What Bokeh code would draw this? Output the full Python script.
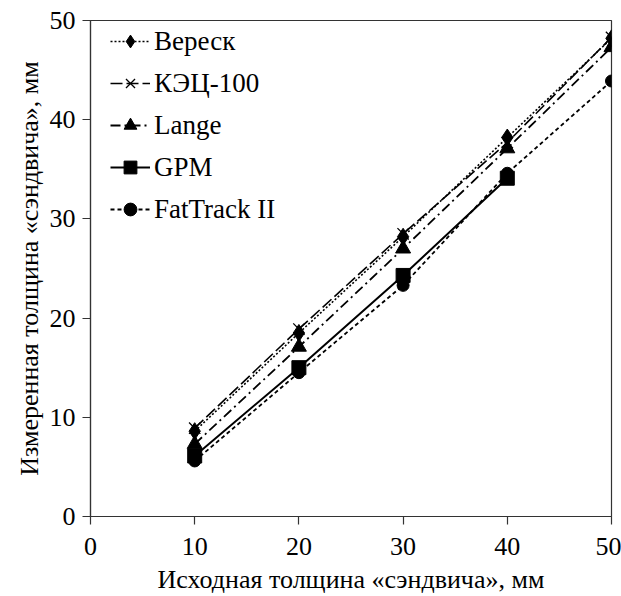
from bokeh.plotting import figure
from bokeh.models import Range1d, FixedTicker, Legend, LegendItem
from bokeh.embed import file_html
from bokeh.resources import INLINE

x_vals = [10, 20, 30, 40, 50]
veresk = [8.6, 18.5, 28.2, 38.2, 48.2]
kec100 = [8.9, 18.9, 28.5, 37.7, 48.3]
lange = [7.3, 17.1, 27.0, 37.1, 47.3]
gpm_x = [10, 20, 30, 40]
gpm = [6.1, 15.0, 24.3, 34.1]
fattrack = [5.6, 14.5, 23.3, 34.6, 43.9]
ticks = [0, 10, 20, 30, 40, 50]

FONT = "Liberation Serif"

p = figure(width=621, height=596, output_backend="svg", toolbar_location=None,
           x_range=Range1d(0, 50), y_range=Range1d(0, 50),
           min_border_left=90, min_border_right=10, min_border_top=20, min_border_bottom=79)
p.grid.visible = False
p.outline_line_color = "#333333"
p.outline_line_width = 1.2
p.background_fill_color = "white"
p.border_fill_color = "white"

for ax in (p.xaxis[0], p.yaxis[0]):
    ax.ticker = FixedTicker(ticks=ticks)
    ax.minor_tick_line_color = None
    ax.major_tick_in = 0
    ax.major_tick_out = 8
    ax.axis_line_color = "#333333"
    ax.axis_line_width = 1.2
    ax.major_tick_line_color = "#333333"
    ax.major_tick_line_width = 1.2
    ax.major_label_text_font = FONT
    ax.major_label_text_font_size = "26px"
    ax.major_label_text_color = "black"
    ax.axis_label_text_font = FONT
    ax.axis_label_text_font_size = "26px"
    ax.axis_label_text_font_style = "normal"
    ax.axis_label_text_color = "black"

p.xaxis.axis_label = "Исходная толщина «сэндвича», мм"
p.yaxis.axis_label = "Измеренная толщина «сэндвича», мм"
p.xaxis.major_label_standoff = 13
p.yaxis.major_label_standoff = 7
p.xaxis.axis_label_standoff = 7
p.yaxis.axis_label_standoff = 3

items = []

l1 = p.line(x_vals, veresk, line_color="black", line_width=1.6, line_dash="2 2")
m1 = p.scatter(x_vals, veresk, marker="diamond", size=17, color="black")
items.append(LegendItem(label="Вереск", renderers=[l1, m1]))

l2 = p.line(x_vals, kec100, line_color="black", line_width=1.6, line_dash="12 4")
m2 = p.scatter(x_vals, kec100, marker="x", size=16, line_color="black", line_width=1.3)
items.append(LegendItem(label="КЭЦ-100", renderers=[l2, m2]))

l3 = p.line(x_vals, lange, line_color="black", line_width=1.8, line_dash="10 4 2 4")
m3 = p.scatter(x_vals, lange, marker="triangle", size=15, color="black")
items.append(LegendItem(label="Lange", renderers=[l3, m3]))

l4 = p.line(gpm_x, gpm, line_color="black", line_width=2)
m4 = p.scatter(gpm_x, gpm, marker="square", size=14, color="black")
items.append(LegendItem(label="GPM", renderers=[l4, m4]))

l5 = p.line(x_vals, fattrack, line_color="black", line_width=1.8, line_dash="4 3")
m5 = p.scatter(x_vals, fattrack, marker="circle", size=12, color="black")
items.append(LegendItem(label="FatTrack II", renderers=[l5, m5]))

legend = Legend(items=items, location=(20, 291))
legend.margin = 0
legend.padding = 0
legend.border_line_color = None
legend.background_fill_alpha = 0
legend.glyph_width = 40
legend.glyph_height = 32
legend.label_height = 32
legend.spacing = 10
legend.label_standoff = 4
legend.label_text_font = FONT
legend.label_text_font_size = "27px"
legend.label_text_color = "black"
p.add_layout(legend)

open("out.html", "w").write(file_html(p, INLINE))
